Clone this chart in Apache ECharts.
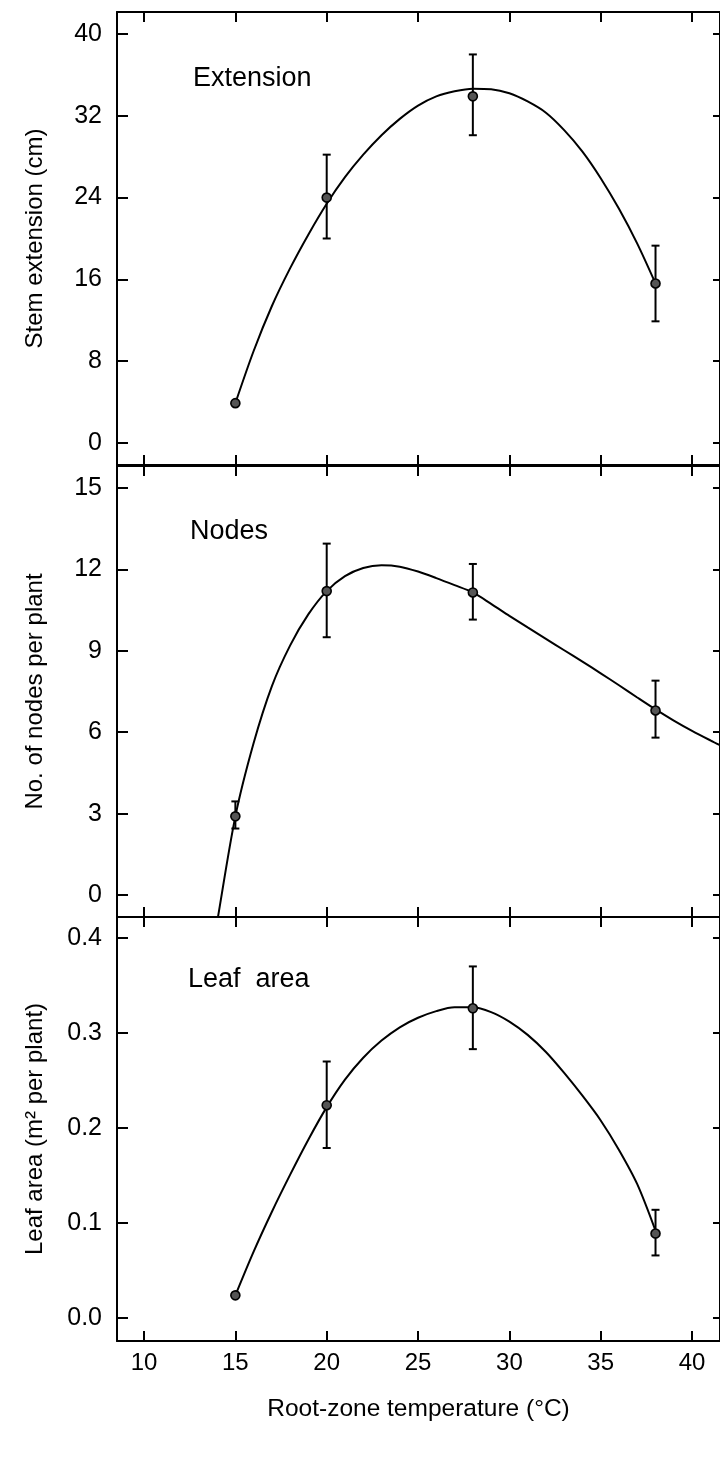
<!DOCTYPE html>
<html><head><meta charset="utf-8">
<script src="https://cdn.jsdelivr.net/npm/echarts@6/dist/echarts.min.js"></script>
<style>html,body{margin:0;padding:0;background:#fff}#c{width:720px;height:1457px}</style>
</head><body><div id="c"></div>
<script>
// ---------- data ----------
const temps = [15, 20, 28, 38];
const xTicks = [10, 15, 20, 25, 30, 35, 40];

// Panel 1: stem extension (cm)
const extTicks = [0, 8, 16, 24, 32, 40];
const extMean = [3.9, 24.0, 33.9, 15.6];
const extLow  = [3.9, 20.0, 30.1, 11.9];
const extHigh = [3.9, 28.2, 38.0, 19.3];
// fitted curve, every 1 degC
const extCurveX = [15, 16, 17, 18, 19, 20, 21, 22, 23, 24, 25, 26, 27, 28, 29, 30, 31, 32, 33, 34, 35, 36, 37, 38];
const extCurveY = [3.9, 9.0, 13.4, 17.1, 20.4, 23.4, 26.0, 28.2, 30.1, 31.7, 33.0, 33.9, 34.4, 34.65, 34.6, 34.2, 33.4, 32.3, 30.6, 28.5, 25.9, 22.9, 19.5, 15.6];

// Panel 2: number of nodes per plant
const nodeTicks = [0, 3, 6, 9, 12, 15];
const nodeMean = [2.9, 11.2, 11.15, 6.8];
const nodeLow  = [2.45, 9.5, 10.15, 5.8];
const nodeHigh = [3.45, 12.95, 12.2, 7.9];
const nodeCurveX = [13.8, 14, 15, 16, 17, 18, 19, 20, 21, 22, 23, 24, 25, 26, 27, 28, 29, 30, 31, 32, 33, 34, 35, 36, 37, 38, 39, 40, 41, 41.6];
const nodeCurveY = [-1.8, -1.0, 2.9, 5.6, 7.7, 9.2, 10.35, 11.2, 11.75, 12.05, 12.15, 12.1, 11.92, 11.68, 11.42, 11.15, 10.73, 10.29, 9.86, 9.44, 9.02, 8.6, 8.17, 7.73, 7.28, 6.84, 6.43, 6.05, 5.7, 5.5];

// Panel 3: leaf area (m2 per plant)
const leafTicks = [0, 0.1, 0.2, 0.3, 0.4];
const leafMean = [0.024, 0.224, 0.326, 0.089];
const leafLow  = [0.024, 0.179, 0.283, 0.066];
const leafHigh = [0.024, 0.270, 0.370, 0.114];
const leafCurveX = [15, 16, 17, 18, 19, 20, 21, 22, 23, 24, 25, 26, 27, 28, 29, 30, 31, 32, 33, 34, 35, 36, 37, 38];
const leafCurveY = [0.024, 0.070, 0.112, 0.151, 0.188, 0.222, 0.251, 0.274, 0.292, 0.306, 0.316, 0.323, 0.327, 0.327, 0.322, 0.312, 0.298, 0.280, 0.258, 0.234, 0.208, 0.177, 0.141, 0.092];

const panelNames = ['Extension', 'Nodes', 'Leaf  area'];
const yTitles = ['Stem extension (cm)', 'No. of nodes per plant', 'Leaf area (m² per plant)'];
const xTitle = 'Root-zone temperature (°C)';

// ---------- layout / style ----------
const FONT = "'Liberation Sans', Arial, Helvetica, sans-serif";
const grids = [
  {left: 117, top: 12, width: 604, height: 453},
  {left: 117, top: 466, width: 604, height: 451},
  {left: 117, top: 917, width: 604, height: 424}
];
const yRanges = [[-2.15, 42.15], [-0.81, 15.81], [-0.024, 0.422]];
const yTickSets = [extTicks, nodeTicks, leafTicks];
const yFmt = [v => String(v), v => String(v), v => v.toFixed(1)];
const xRange = [8.52, 41.53];
const titleTops = [65, 518, 966];
const titleLefts = [193, 190, 188];

const lineBlack = {color: '#000', width: 2};

const xAxes = [], yAxes = [];
for (let i = 0; i < 3; i++) {
  for (const pos of ['bottom', 'top']) {
    const isLabel = (i === 2 && pos === 'bottom');
    xAxes.push({
      gridIndex: i, type: 'value', position: pos, min: xRange[0], max: xRange[1],
      axisLine: {show: true, onZero: false, lineStyle: lineBlack},
      axisTick: {show: true, inside: true, length: 10, customValues: xTicks, lineStyle: lineBlack},
      axisLabel: {show: isLabel, customValues: xTicks, fontSize: 24, color: '#000', fontFamily: FONT, margin: 10},
      splitLine: {show: false},
      name: isLabel ? xTitle : '', nameLocation: 'middle', nameGap: 56,
      nameTextStyle: {fontSize: 24.5, color: '#000', fontFamily: FONT}
    });
  }
  for (const pos of ['left', 'right']) {
    const isLeft = pos === 'left';
    yAxes.push({
      gridIndex: i, type: 'value', position: pos, min: yRanges[i][0], max: yRanges[i][1],
      axisLine: {show: true, onZero: false, lineStyle: lineBlack},
      axisTick: {show: true, inside: true, length: isLeft ? 11 : 7, customValues: yTickSets[i], lineStyle: lineBlack},
      axisLabel: {show: isLeft, customValues: yTickSets[i], formatter: yFmt[i], fontSize: 25, color: '#000', fontFamily: FONT, margin: 15},
      splitLine: {show: false},
      name: isLeft ? yTitles[i] : '', nameLocation: 'middle', nameRotate: 90, nameGap: 70,
      nameTextStyle: {fontSize: 24, color: '#000', fontFamily: FONT}
    });
  }
}

function errRender(params, api) {
  const x = api.value(0), lo = api.value(1), hi = api.value(2);
  if (hi - lo <= 0) return {type: 'group', children: []};
  const a = api.coord([x, lo]), b = api.coord([x, hi]);
  const w = 4, st = {stroke: '#000', lineWidth: 2};
  return {type: 'group', children: [
    {type: 'line', shape: {x1: a[0], y1: a[1], x2: b[0], y2: b[1]}, style: st},
    {type: 'line', shape: {x1: a[0] - w, y1: a[1], x2: a[0] + w, y2: a[1]}, style: st},
    {type: 'line', shape: {x1: b[0] - w, y1: b[1], x2: b[0] + w, y2: b[1]}, style: st}
  ]};
}

const panels = [
  {mean: extMean, low: extLow, high: extHigh, cx: extCurveX, cy: extCurveY},
  {mean: nodeMean, low: nodeLow, high: nodeHigh, cx: nodeCurveX, cy: nodeCurveY},
  {mean: leafMean, low: leafLow, high: leafHigh, cx: leafCurveX, cy: leafCurveY}
];

const series = [];
panels.forEach((p, i) => {
  series.push({
    type: 'line', xAxisIndex: 2 * i, yAxisIndex: 2 * i, clip: true,
    data: p.cx.map((x, k) => [x, p.cy[k]]),
    smooth: 0.3, showSymbol: false, symbol: 'none',
    lineStyle: {color: '#000', width: 2}, z: 2, silent: true
  });
  series.push({
    type: 'custom', xAxisIndex: 2 * i, yAxisIndex: 2 * i,
    data: temps.map((t, k) => [t, p.low[k], p.high[k]]),
    encode: {x: 0, y: [1, 2]}, renderItem: errRender, z: 3, silent: true
  });
  series.push({
    type: 'scatter', xAxisIndex: 2 * i, yAxisIndex: 2 * i,
    data: temps.map((t, k) => [t, p.mean[k]]),
    symbol: 'circle', symbolSize: 9,
    itemStyle: {color: '#555', borderColor: '#000', borderWidth: 1.6, opacity: 1},
    z: 4, silent: true
  });
});

const titles = panelNames.map((t, i) => ({
  text: t, left: titleLefts[i], top: titleTops[i], padding: 0,
  textStyle: {fontSize: 27, fontWeight: 'normal', color: '#000', fontFamily: FONT, lineHeight: 28}
}));

const chart = echarts.init(document.getElementById('c'), null, {renderer: 'canvas'});
chart.setOption({
  animation: false,
  backgroundColor: '#fff',
  title: titles,
  grid: grids,
  xAxis: xAxes,
  yAxis: yAxes,
  series: series
});
</script>
</body></html>
